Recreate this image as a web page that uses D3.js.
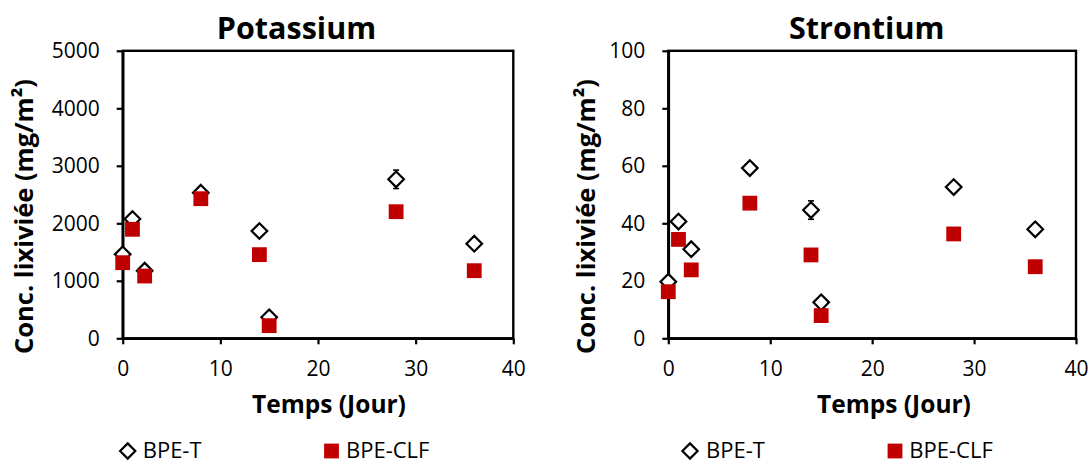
<!DOCTYPE html>
<html>
<head>
<meta charset="utf-8">
<script src="https://cdn.jsdelivr.net/npm/d3@7"></script>
<style>
  html, body { margin: 0; padding: 0; background: #fff; }
  svg { display: block; font-family: "Open Sans", sans-serif; }
</style>
</head>
<body>
<svg id="chart" width="1090" height="464"></svg>
<script>
// ---- data ----
const days = [0, 1, 2.25, 8, 14, 15, 28, 36];
const potassiumT = [1460, 2075, 1176, 2532, 1866, 365, 2765, 1646];
const potassiumCLF = [1315, 1896, 1083, 2428, 1455, 220, 2202, 1176];
const potassiumTErr = [0, 0, 0, 0, 0, 0, 160, 0];
const strontiumT = [19.7, 40.6, 31.0, 59.2, 44.6, 12.5, 52.6, 37.9];
const strontiumCLF = [16.2, 34.4, 23.8, 47.0, 29.0, 7.9, 36.3, 24.9];
const strontiumTErr = [0, 0, 0, 0, 3.2, 0, 0, 0];
const xTicks = [0, 10, 20, 30, 40];
const potassiumYTicks = [0, 1000, 2000, 3000, 4000, 5000];
const strontiumYTicks = [0, 20, 40, 60, 80, 100];
const seriesNames = ["BPE-T", "BPE-CLF"];
const titles = ["Potassium", "Strontium"];
const xTitle = "Temps (Jour)";
const yTitle = "Conc. lixiviée (mg/m²)";

// ---- layout ----
const svg = d3.select("#chart");
const red = "#C00000";
const panels = [
  { title: titles[0], t: potassiumT, clf: potassiumCLF, err: potassiumTErr, yTicks: potassiumYTicks, yMax: 5000,
    x0: 122.7, x1: 513.3, titleX: 296.5, yLabX: 26, xTitleX: 329,
    legD: 127.7, legDT: 142.7, legS: 331.5, legST: 346 },
  { title: titles[1], t: strontiumT, clf: strontiumCLF, err: strontiumTErr, yTicks: strontiumYTicks, yMax: 100,
    x0: 668.3, x1: 1076, titleX: 866.7, yLabX: 588.3, xTitleX: 894,
    legD: 690, legDT: 706, legS: 895, legST: 909.3 }
];
const yBottom = 338.3, yTop = 50.8;
const legBase = 458, legMark = 451;
const diamond = r => `M0,${-r}L${r},0L0,${r}L${-r},0Z`;

panels.forEach(p => {
  const x = d3.scaleLinear().domain([0, 40]).range([p.x0, p.x1]);
  const y = d3.scaleLinear().domain([0, p.yMax]).range([yBottom, yTop]);
  const g = svg.append("g");

  // frame
  g.append("rect").attr("x", p.x0).attr("y", yTop).attr("width", p.x1 - p.x0).attr("height", yBottom - yTop)
    .attr("fill", "none").attr("stroke", "#000").attr("stroke-width", 2.4);

  const yAxis = d3.axisLeft(y).tickValues(p.yTicks).tickSize(6).tickSizeOuter(0).tickPadding(17).tickFormat(d3.format("d"));
  const xAxis = d3.axisBottom(x).tickValues(xTicks).tickSize(6).tickSizeOuter(0).tickPadding(17).tickFormat(d3.format("d"));
  [g.append("g").attr("transform", `translate(${p.x0},0)`).call(yAxis),
   g.append("g").attr("transform", `translate(0,${yBottom})`).call(xAxis)].forEach(a => {
    a.select(".domain").attr("stroke", "#000").attr("stroke-width", 2.6);
    a.selectAll(".tick line").attr("stroke", "#000").attr("stroke-width", 2.2);
    a.selectAll(".tick text").attr("fill", "#000").style("font-size", "21px").style("font-family", "'Open Sans', sans-serif");
  });

  // error bars
  const eb = g.append("g").attr("stroke", "#000").attr("stroke-width", 1.6);
  days.forEach((d, i) => {
    if (!p.err[i]) return;
    const cx = x(d), ya = y(p.t[i] - p.err[i]), yb = y(p.t[i] + p.err[i]);
    eb.append("line").attr("x1", cx).attr("x2", cx).attr("y1", ya).attr("y2", yb);
    eb.append("line").attr("x1", cx - 3).attr("x2", cx + 3).attr("y1", ya).attr("y2", ya);
    eb.append("line").attr("x1", cx - 3).attr("x2", cx + 3).attr("y1", yb).attr("y2", yb);
  });

  // BPE-T diamonds
  g.append("g").selectAll("path").data(days).join("path")
    .attr("d", diamond(7.8))
    .attr("transform", (d, i) => `translate(${x(d)},${y(p.t[i])})`)
    .attr("fill", "#fff").attr("stroke", "#000").attr("stroke-width", 2.2);

  // BPE-CLF squares
  g.append("g").selectAll("rect").data(days).join("rect")
    .attr("x", d => x(d) - 7.4).attr("y", (d, i) => y(p.clf[i]) - 7.4)
    .attr("width", 14.8).attr("height", 14.8).attr("fill", red);

  // titles
  g.append("text").attr("x", p.titleX).attr("y", 39).attr("text-anchor", "middle")
    .style("font-size", "30.5px").style("font-weight", "700").text(p.title);
  g.append("text").attr("transform", `translate(${p.yLabX},216.5) rotate(-90)`).attr("dy", "0.27em")
    .attr("text-anchor", "middle").style("font-size", "25.5px").style("font-weight", "700").text(yTitle);
  g.append("text").attr("x", p.xTitleX).attr("y", 413).attr("text-anchor", "middle")
    .style("font-size", "24.5px").style("font-weight", "700").text(xTitle);

  // legend
  g.append("path").attr("d", diamond(7.6)).attr("transform", `translate(${p.legD},${legMark})`)
    .attr("fill", "#fff").attr("stroke", "#000").attr("stroke-width", 2.2);
  g.append("text").attr("x", p.legDT).attr("y", legBase).style("font-size", "22px").text(seriesNames[0]);
  g.append("rect").attr("x", p.legS - 7.4).attr("y", legMark - 7.4).attr("width", 14.8).attr("height", 14.8).attr("fill", red);
  g.append("text").attr("x", p.legST).attr("y", legBase).style("font-size", "22px").text(seriesNames[1]);
});
</script>
</body>
</html>
